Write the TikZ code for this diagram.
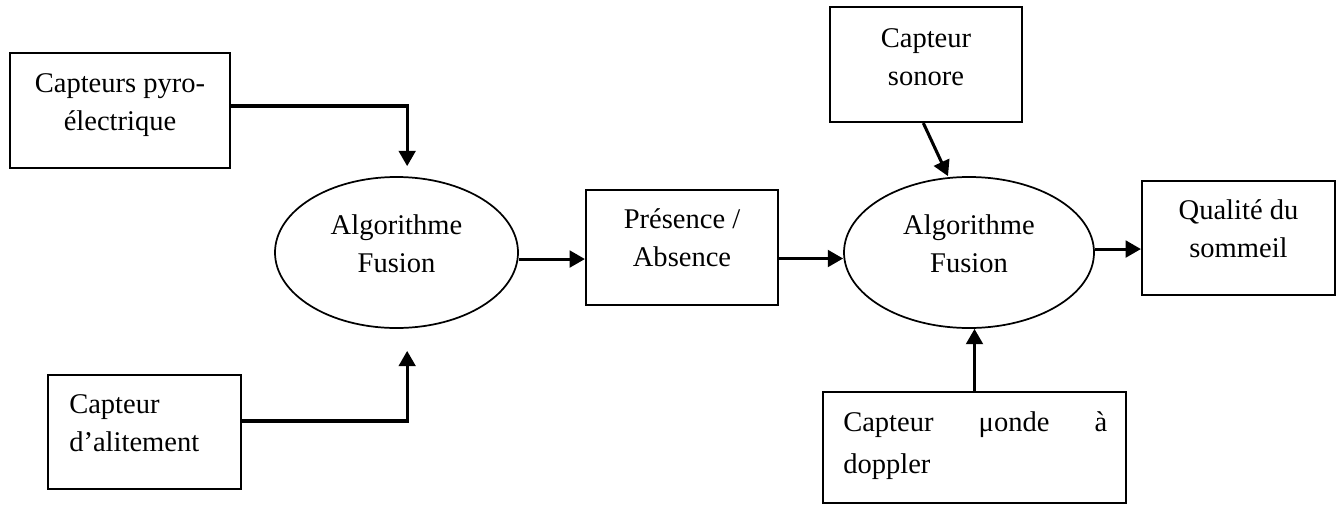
\documentclass[tikz,border=0pt]{standalone}
\usepackage{fontspec}
\setmainfont{Liberation Serif}
\usetikzlibrary{arrows.meta,shapes.geometric}
\begin{document}
\begin{tikzpicture}[x=0.75pt,y=-0.75pt,
  box/.style={draw, line width=1.6pt, inner sep=0pt},
  oval/.style={draw, ellipse, line width=1.3pt, inner sep=0pt},
  txt/.style={font=\fontsize{21.4pt}{28.5pt}\selectfont, inner sep=0pt, align=center, anchor=base},
  arr/.style={line width=2.3pt, -{Triangle[length=11.5pt,width=12.5pt]}}]
\useasboundingbox (0,0) rectangle (1338,504);

% boxes and fusion blocks
\node[box, minimum width=165pt, minimum height=86.25pt] (pyro) at (120,110.5) {};
\node[box, minimum width=144.75pt, minimum height=85.5pt] (alit) at (144.5,432) {};
\node[box, minimum width=144pt, minimum height=86.25pt] (pres) at (682,247.5) {};
\node[box, minimum width=144pt, minimum height=86.25pt] (son) at (926,64.5) {};
\node[box, minimum width=144.75pt, minimum height=85.5pt] (qual) at (1238.5,238) {};
\node[box, minimum width=227.25pt, minimum height=83.25pt] (mon) at (974.5,447.5) {};
\node[oval, minimum width=182.25pt, minimum height=113.25pt] (fus1) at (396.5,252.5) {};
\node[oval, minimum width=187.5pt, minimum height=113.25pt] (fus2) at (969,252.5) {};

% texts (positioned by the baseline of their last line)
\node[txt] (tpyro) at (120,130) {Capteurs pyro-\\électrique};
\node[txt, align=left, anchor=base west] (talit) at (69,451) {Capteur\\d’alitement};
\node[txt] (tpres) at (682,266) {Présence /\\Absence};
\node[txt] (tson) at (926,85) {Capteur\\sonore};
\node[txt] (tqual) at (1238.5,257) {Qualité du\\sommeil};
\node[txt] (tfus1) at (396.5,272) {Algorithme\\Fusion};
\node[txt] (tfus2) at (969,272) {Algorithme\\Fusion};
\node[txt, text width=198pt, align=justify, anchor=base west,
      font=\fontsize{21.4pt}{31.5pt}\selectfont] (tmon) at (843,431)
      {Capteur μonde à\linebreak doppler};

% connectors
\draw[arr] ([yshift=3.4pt]pyro.east) -| ([xshift=8pt,yshift=7.5pt]fus1.north);
\draw[arr] ([yshift=8.25pt]alit.east) -| ([xshift=8pt,yshift=-16.5pt]fus1.south);
\coordinate (a1) at ([yshift=-4.9pt]fus1.east);
\draw[arr] (a1) -- (a1 -| pres.west);
\coordinate (a2) at ([yshift=-8.25pt]pres.east);
\draw[arr] (a2) -- (a2 -| fus2.west);
\draw[arr] ([xshift=-2pt]son.south) -- ([xshift=-15.75pt]fus2.north);
\draw[arr] (mon.north) -- (mon.north |- fus2.south);
\coordinate (a3) at ([yshift=2.6pt]fus2.east);
\draw[arr] (a3) -- (a3 -| qual.west);
\end{tikzpicture}
\end{document}
